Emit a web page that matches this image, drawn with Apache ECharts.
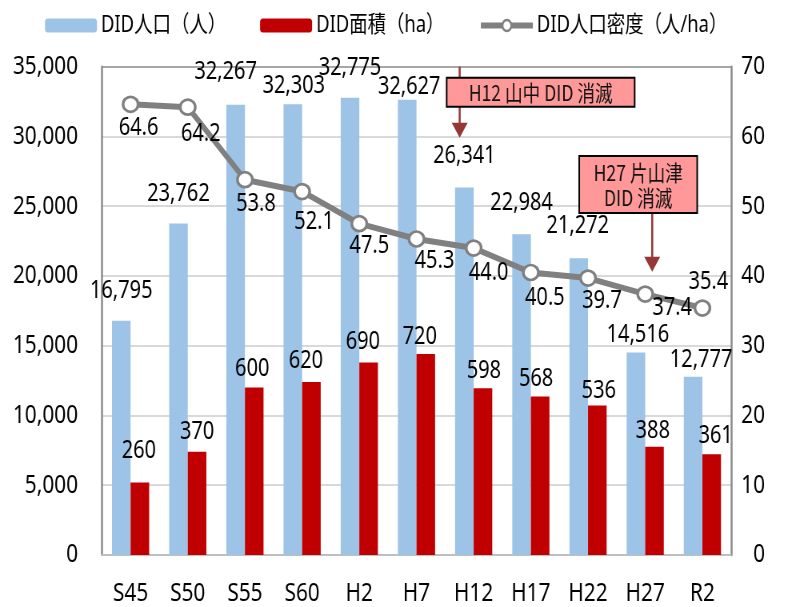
<!DOCTYPE html>
<html><head><meta charset="utf-8">
<script src="https://cdn.jsdelivr.net/npm/echarts@6/dist/echarts.min.js"></script>
<style>
html,body{margin:0;padding:0;background:#fff;overflow:hidden}
#wrap{width:792px;height:607px;overflow:hidden}
#c{width:990px;height:607px;transform:scaleX(0.8);transform-origin:0 0}
</style>
</head><body><div id="wrap"><div id="c"></div></div>
<script>
// ---- data ----
const categories = ['S45','S50','S55','S60','H2','H7','H12','H17','H22','H27','R2'];
const population = [16795, 23762, 32267, 32303, 32775, 32627, 26341, 22984, 21272, 14516, 12777];
const area = [260, 370, 600, 620, 690, 720, 598, 568, 536, 388, 361];
const density = [64.6, 64.2, 53.8, 52.1, 47.5, 45.3, 44.0, 40.5, 39.7, 37.4, 35.4];
const seriesNames = ['DID人口（人）', 'DID面積（ha）', 'DID人口密度（人/ha）'];
const leftAxis = {min: 0, max: 35000, interval: 5000};
const rightAxis = {min: 0, max: 70, interval: 10};
const areaAxisMax = 1750;
const noteH12 = 'H12 山中 DID 消滅';
const noteH27 = 'H27 片山津\nDID 消滅';

// ---- layout / style (condensed rendering: chart drawn wide, squeezed by CSS) ----
const SX = 0.8;
const W = v => v / SX;   // horizontal screen px -> chart px
const popLabelOffset = [[0,-30],[0,-30],[-10,-33],[1,-18.5],[0,-30],[2,-13],[0,-32],[0,-31],[-1,-32],[2,-17.5],[8,-17]];
const areaLabelOffset = [[-1,-32],[0,-20],[-2,-19],[-5.5,-21],[-5.7,-20.5],[-6,-17],[1,-17],[-4,-17.7],[1.5,-14.6],[-1.7,-16],[4,-18.6]];
const densLabelOffset = [[8,24],[13,27],[11,24],[12,30],[10,22],[18,22],[15,25],[14,25],[14,23],[27,14],[6,-26]];
const off = o => [W(o[0]), o[1]];

const FONT = "'Noto Sans', 'Noto Sans CJK JP', sans-serif";
const TXT = {fontFamily: FONT, color: '#000'};
const LBL = Object.assign({show: true, position: 'top', distance: 0, align: 'center', verticalAlign: 'middle',
  fontSize: 25}, TXT);

const chart = echarts.init(document.getElementById('c'), null, {renderer: 'canvas'});
chart.setOption({
  animation: false,
  textStyle: {fontFamily: FONT},
  grid: {left: W(102), right: W(61), top: 66.7, bottom: 50.3},
  legend: {
    data: seriesNames, left: W(41), top: 9, itemWidth: W(52), itemHeight: 14, itemGap: W(34),
    lineStyle: {width: 6},
    itemStyle: {borderWidth: 2.5},
    textStyle: Object.assign({fontSize: 23}, TXT)
  },
  xAxis: {
    type: 'category', data: categories,
    axisLine: {lineStyle: {color: '#BFBFBF', width: 2}},
    axisTick: {show: false},
    axisLabel: Object.assign({fontSize: 26, margin: 26, interval: 0}, TXT)
  },
  yAxis: [
    {type: 'value', min: leftAxis.min, max: leftAxis.max, interval: leftAxis.interval, position: 'left',
     axisLine: {show: true, lineStyle: {color: '#8C8C8C', width: 2.5}},
     axisTick: {show: false},
     splitLine: {lineStyle: {color: ['#C8C8C8','#D9D9D9','#D9D9D9','#D9D9D9','#D9D9D9','#D9D9D9','#D9D9D9','#A6A6A6'], width: 2}},
     axisLabel: Object.assign({fontSize: 26, margin: W(24), formatter: v => v.toLocaleString('en-US')}, TXT)},
    {type: 'value', min: rightAxis.min, max: rightAxis.max, interval: rightAxis.interval, position: 'right',
     axisLine: {show: true, lineStyle: {color: '#8C8C8C', width: 2.5}},
     axisTick: {show: false}, splitLine: {show: false},
     axisLabel: Object.assign({fontSize: 26, margin: W(34), align: 'right'}, TXT)},
    {type: 'value', min: 0, max: areaAxisMax, show: false, splitLine: {show: false}}
  ],
  series: [
    {name: seriesNames[0], type: 'bar', yAxisIndex: 0, barGap: '0%', barCategoryGap: '35%',
     itemStyle: {color: '#9DC3E6'},
     label: Object.assign({}, LBL, {formatter: p => Number(p.value).toLocaleString('en-US')}),
     data: population.map((v, i) => ({value: v, label: {offset: off(popLabelOffset[i])}}))},
    {name: seriesNames[1], type: 'bar', yAxisIndex: 2, barGap: '0%', barCategoryGap: '35%',
     itemStyle: {color: '#C00000'},
     label: Object.assign({}, LBL, {formatter: p => String(p.value)}),
     data: area.map((v, i) => ({value: v, label: {offset: off(areaLabelOffset[i])}}))},
    {name: seriesNames[2], type: 'line', yAxisIndex: 1, z: 5,
     symbol: 'circle', symbolSize: [W(15), 15],
     lineStyle: {color: '#808080', width: 6},
     itemStyle: {color: '#fff', borderColor: '#808080', borderWidth: 3},
     label: Object.assign({}, LBL, {position: 'inside', formatter: p => Number(p.value).toFixed(1)}),
     data: density.map((v, i) => ({value: v, label: {offset: off(densLabelOffset[i])}}))}
  ]
});

// ---- annotations anchored to axis scales ----
function px(cat, val) { return chart.convertToPixel({xAxisIndex: 0, yAxisIndex: 0}, [cat, val]); }
const ARROW = '#953735';
function arrow(x, y0, y1) {
  return [
    {type: 'line', z: 50, shape: {x1: x, y1: y0, x2: x, y2: y1 - 14}, style: {stroke: ARROW, lineWidth: 2.5}},
    {type: 'polygon', z: 50, shape: {points: [[x - W(8), y1 - 15], [x + W(8), y1 - 15], [x, y1]]}, style: {fill: ARROW}}
  ];
}
const NOTE_FONT = "22px 'Noto Sans CJK JP'";
const a12 = px('H12', 29900); const a12x = a12[0] - W(14);
const a27 = px('H27', 20300); const a27x = a27[0] + W(7);
const topY = px('H12', 35000)[1];
const g = [];
g.push(...arrow(a12x, topY, a12[1]));
g.push({type: 'rect', z: 51, shape: {x: a12x - W(13), y: topY + 11, width: W(188), height: 29},
  style: {fill: '#FF9999', stroke: '#000', lineWidth: 2}});
g.push({type: 'text', z: 52, style: {text: noteH12, x: a12x - W(13) + W(94), y: topY + 11 + 15,
  align: 'center', verticalAlign: 'middle', font: NOTE_FONT, fill: '#111'}});
g.push(...arrow(a27x, 200, a27[1]));
g.push({type: 'rect', z: 51, shape: {x: a27x - W(73), y: 156, width: W(118), height: 57},
  style: {fill: '#FF9999', stroke: '#000', lineWidth: 2}});
g.push({type: 'text', z: 52, style: {text: noteH27, x: a27x - W(73) + W(59), y: 156 + 29,
  align: 'center', verticalAlign: 'middle', lineHeight: 25, font: NOTE_FONT, fill: '#111'}});
chart.setOption({graphic: g});
</script>
</body></html>
